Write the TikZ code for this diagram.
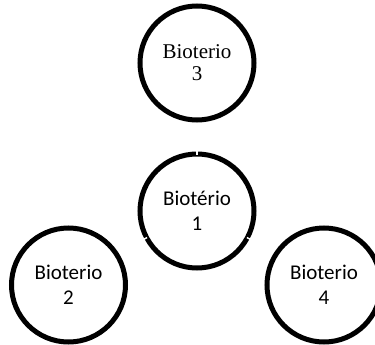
\documentclass[tikz,border=0pt]{standalone}
\usepackage{fontspec}
\newfontfamily\timesf{Liberation Serif}
\newfontfamily\calibf{Carlito}
\begin{document}
\begin{tikzpicture}[x=1pt,y=-1pt,
  bio/.style={circle,draw=black,line width=5pt,minimum size=114pt,inner sep=0pt,align=center},
  serifbio/.style={bio,font=\timesf\fontsize{21}{22}\selectfont},
  sansbio/.style={bio,font=\calibf\fontsize{21}{25}\selectfont},
  notch/.style={draw=white,line width=1.5pt}]
\clip (0,0) rectangle (375,345);
\node[serifbio] (c3) at (197,63) {Bioterio\\3};
\node[sansbio] (c1) at (197,211) {Biotério\\1};
\node[sansbio] (c2) at (68.5,285) {Bioterio\\2};
\node[sansbio] (c4) at (324,285) {Bioterio\\4};
\draw[notch] (c1.center) ++(270:56.5) -- ++(270:4);
\draw[notch] (c1.center) ++(152:56.5) -- ++(152:4);
\draw[notch] (c1.center) ++(28:56.5) -- ++(28:4);
\end{tikzpicture}
\end{document}
